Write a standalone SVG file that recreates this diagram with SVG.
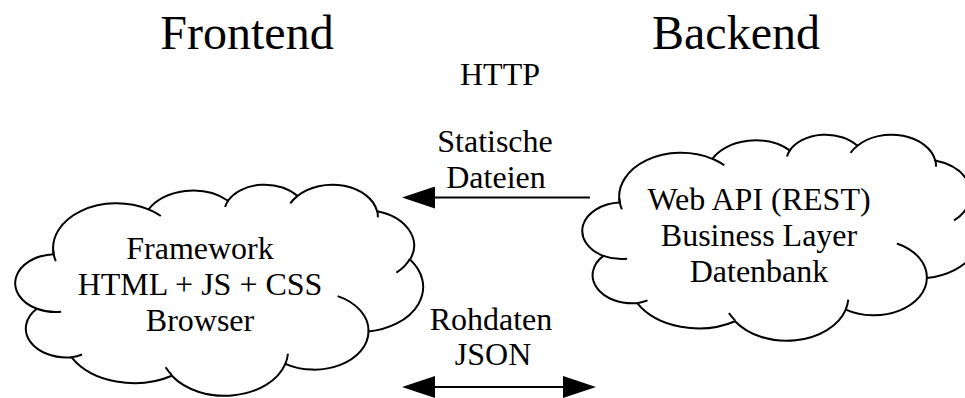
<svg xmlns="http://www.w3.org/2000/svg" xmlns:xlink="http://www.w3.org/1999/xlink" width="965" height="398" viewBox="0 0 965 398">
<style>
text{font-family:"Liberation Serif","Times New Roman",serif;fill:#000;text-anchor:middle}
.t48{font-size:48px}
.t32{font-size:32px}
.cloud{fill:#fff;stroke:#000;stroke-width:2;vector-effect:non-scaling-stroke}
.tail{fill:none;stroke:#000;stroke-width:2;vector-effect:non-scaling-stroke}
.conn{stroke:#000;stroke-width:2;fill:none}
</style>
<defs>
<path id="cloudOutline" class="cloud" d="M3900 14370A6753 9190 0 0 1 14005 5202A5333 7267 0 0 1 22455 3431A4365 5945 0 0 1 29831 2478A4857 6595 0 0 1 38316 5574A5333 7273 0 0 1 41816 15457A6775 9220 0 0 1 37403 30202A5785 7867 0 0 1 28555 36813A6752 9215 0 0 1 16480 39266A7720 10543 0 0 1 5805 35473A4360 5918 0 0 1 2113 25552A4345 5945 0 0 1 3900 14370Z"/>
<path id="cloudTails" class="tail" d="M4693 26177A4345 5945 0 0 1 2113 25552M6928 34899A4360 5918 0 0 1 5805 35473M16478 39090A6752 9215 0 0 1 15812 37524M28827 34751A6752 9215 0 0 1 28555 36813M34129 22954A5785 7867 0 0 1 37403 30202M41798 15354A5333 7273 0 0 1 40369 18133M38324 5426A4857 6595 0 0 1 38392 6837M29078 3952A4857 6595 0 0 1 29831 2478M22141 4720A4365 5945 0 0 1 22455 3431M14000 5192A6753 9190 0 0 1 15304 6550M4127 15789A6753 9190 0 0 1 3844 13498"/>
<marker id="arrow" markerUnits="userSpaceOnUse" markerWidth="33" markerHeight="22" viewBox="0 0 33 22" refX="1" refY="11" orient="auto-start-reverse">
<path d="M0 0L33 11L0 22Z" fill="#000"/>
</marker>
</defs>
<rect width="965" height="398" fill="#fff"/>
<text class="t48" x="247" y="49">Frontend</text>
<text class="t48" x="736" y="49">Backend</text>
<text class="t32" x="500" y="85">HTTP</text>
<g id="frontend">
<g transform="translate(17 184) scale(0.0093981 0.0048843)">
<use xlink:href="#cloudOutline"/>
<use xlink:href="#cloudTails"/>
</g>
<text class="t32" x="200" y="259">Framework</text>
<text class="t32" x="200" y="295">HTML + JS + CSS</text>
<text class="t32" x="200" y="331">Browser</text>
</g>
<g id="backend">
<g transform="translate(584 134) scale(0.0091667 0.0047685)">
<use xlink:href="#cloudOutline"/>
<use xlink:href="#cloudTails"/>
</g>
<text class="t32" x="759" y="210">Web API (REST)</text>
<text class="t32" x="759" y="246">Business Layer</text>
<text class="t32" x="759" y="282">Datenbank</text>
</g>
<g id="connectors">
<line class="conn" x1="590" y1="197.5" x2="434" y2="197.5" marker-end="url(#arrow)"/>
<text class="t32" x="495" y="152">Statische</text>
<text class="t32" x="496" y="188">Dateien</text>
<line class="conn" x1="434" y1="387" x2="564" y2="387" marker-start="url(#arrow)" marker-end="url(#arrow)"/>
<text class="t32" x="491" y="330">Rohdaten</text>
<text class="t32" x="493" y="365">JSON</text>
</g>
</svg>
